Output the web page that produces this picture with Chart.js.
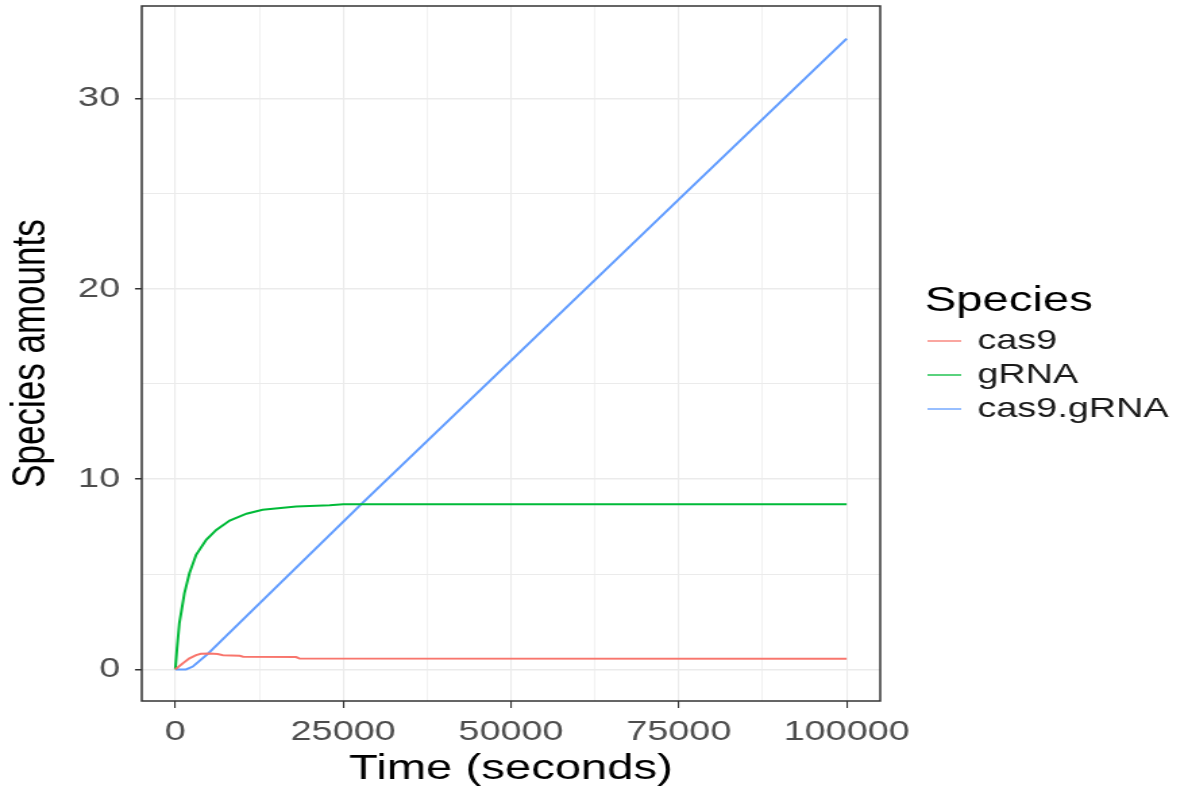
<html>
<head>
  <meta charset="utf-8">
  <title>Species amounts</title>
  <script src="https://cdn.jsdelivr.net/npm/chart.js@4.4.1/dist/chart.umd.min.js"></script>
  <style>
    body { margin: 0; background: #fff; overflow: hidden; }
    /* the reference picture is stretched sideways, so draw narrow and stretch */
    #wrap { width: 872px; height: 790px; transform: scaleX(1.35); transform-origin: 0 0; }
  </style>
</head>
<body>
<div id="wrap"><canvas id="speciesChart"></canvas></div>

<script>
  // data
  var speciesNames = ['cas9', 'gRNA', 'cas9.gRNA'];
  var speciesColors = ['#F8766D', '#00BA38', '#619CFF'];

  var cas9Time = [0, 1100, 2100, 3100, 3800, 5100, 6300, 7100, 9600, 10100, 18000, 18500, 100000];
  var cas9Amount = [0, 0.32, 0.58, 0.75, 0.82, 0.84, 0.81, 0.75, 0.72, 0.67, 0.65, 0.57, 0.56];

  var gRNATime = [0, 250, 600, 1350, 2100, 3100, 4600, 6100, 8100, 10600, 13000, 18000, 23000, 25000, 100000];
  var gRNAAmount = [0, 1.1, 2.42, 4.0, 5.05, 6.02, 6.81, 7.33, 7.82, 8.18, 8.39, 8.56, 8.63, 8.68, 8.68];

  var complexTime = [0, 1600, 2600, 3600, 4800, 27700, 50000, 75000, 100000];
  var complexAmount = [0, 0.0, 0.15, 0.45, 0.8, 8.68, 16.23, 24.7, 33.15];

  var xTicks = [0, 12500, 25000, 37500, 50000, 62500, 75000, 87500, 100000];
  var yTicks = [0, 5, 10, 15, 20, 25, 30];

  function toPoints(times, amounts) {
    return times.map(function (t, i) { return { x: t, y: amounts[i] }; });
  }

  var seriesData = [
    toPoints(cas9Time, cas9Amount),
    toPoints(gRNATime, gRNAAmount),
    toPoints(complexTime, complexAmount)
  ];

  var fontFamily = '"Liberation Sans", Arial, sans-serif';

  // panel border and legend, ggplot style
  var panelAndLegend = {
    id: 'panelAndLegend',
    afterDraw: function (chart) {
      var ctx = chart.ctx;
      var a = chart.chartArea;
      ctx.save();
      ctx.strokeStyle = '#333333';
      ctx.lineWidth = 1.5;
      ctx.strokeRect(a.left, a.top, a.right - a.left, a.bottom - a.top);

      ctx.fillStyle = '#000';
      ctx.textBaseline = 'middle';
      ctx.textAlign = 'left';
      ctx.font = '35px ' + fontFamily;
      ctx.fillText('Species', 685, 301);

      var rows = [341, 375, 409];
      ctx.font = '28px ' + fontFamily;
      for (var i = 0; i < speciesNames.length; i++) {
        ctx.strokeStyle = speciesColors[i];
        ctx.lineWidth = 1.3;
        ctx.beginPath();
        ctx.moveTo(687, rows[i]);
        ctx.lineTo(712, rows[i]);
        ctx.stroke();
        ctx.fillStyle = '#1A1A1A';
        ctx.fillText(speciesNames[i], 724, rows[i]);
      }
      ctx.restore();
    }
  };

  var ctx = document.getElementById('speciesChart').getContext('2d');
  var chart = new Chart(ctx, {
    type: 'line',
    data: {
      datasets: seriesData.map(function (pts, i) {
        return {
          label: speciesNames[i],
          data: pts,
          borderColor: speciesColors[i],
          backgroundColor: speciesColors[i],
          borderWidth: 2,
          pointRadius: 0,
          tension: 0,
          fill: false
        };
      })
    },
    options: {
      responsive: true,
      maintainAspectRatio: false,
      animation: false,
      layout: { padding: { top: 6, right: 220, left: 0, bottom: 0 } },
      plugins: {
        legend: { display: false },
        tooltip: { enabled: false }
      },
      scales: {
        x: {
          type: 'linear',
          min: -5000,
          max: 105000,
          afterBuildTicks: function (scale) {
            scale.ticks = xTicks.map(function (v) { return { value: v }; });
          },
          afterFit: function (scale) {
            scale.height = 89;
            scale.paddingLeft = 0;
            scale.paddingRight = 0;
          },
          grid: {
            color: '#EBEBEB',
            lineWidth: function (c) { return c.tick && c.tick.value % 25000 === 0 ? 1.1 : 0.7; },
            tickLength: 7,
            tickColor: function (c) { return c.tick && c.tick.value % 25000 === 0 ? '#333333' : 'rgba(0,0,0,0)'; },
            tickWidth: 1.1
          },
          border: { display: false },
          ticks: {
            autoSkip: false,
            maxRotation: 0,
            padding: 7,
            color: '#4D4D4D',
            font: { family: fontFamily, size: 28 },
            callback: function (v) { return v % 25000 === 0 ? String(v) : ''; }
          },
          title: {
            display: true,
            text: 'Time (seconds)',
            color: '#000',
            font: { family: fontFamily, size: 35 },
            padding: { top: 0, bottom: 0 }
          }
        },
        y: {
          type: 'linear',
          min: -1.66,
          max: 34.86,
          afterBuildTicks: function (scale) {
            scale.ticks = yTicks.map(function (v) { return { value: v }; });
          },
          afterFit: function (scale) {
            scale.width = 105;
            scale.paddingTop = 0;
            scale.paddingBottom = 0;
          },
          grid: {
            color: '#EBEBEB',
            lineWidth: function (c) { return c.tick && c.tick.value % 10 === 0 ? 1.5 : 1; },
            tickLength: 5,
            tickColor: function (c) { return c.tick && c.tick.value % 10 === 0 ? '#333333' : 'rgba(0,0,0,0)'; },
            tickWidth: 1.5
          },
          border: { display: false },
          ticks: {
            autoSkip: false,
            padding: 11,
            color: '#4D4D4D',
            font: { family: fontFamily, size: 28 },
            callback: function (v) { return v % 10 === 0 ? String(v) : ''; }
          },
          title: {
            display: true,
            text: 'Species amounts',
            color: '#000',
            font: { family: fontFamily, size: 35 },
            padding: { top: 2, bottom: 0 }
          }
        }
      }
    },
    plugins: [panelAndLegend]
  });
</script>
</body>
</html>
